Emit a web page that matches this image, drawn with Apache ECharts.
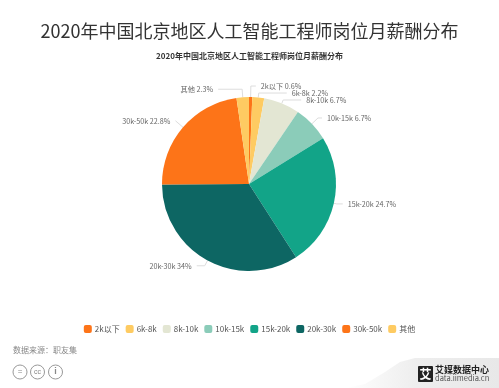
<!DOCTYPE html>
<html>
<head>
<meta charset="utf-8">
<style>
html,body{margin:0;padding:0;background:#fff;}
#main{width:499px;height:388px;}
</style>
<script src="https://cdn.jsdelivr.net/npm/echarts@6/dist/echarts.min.js"></script>
</head>
<body>
<div id="main"></div>
<script>
var categories = ['2k以下', '6k-8k', '8k-10k', '10k-15k', '15k-20k', '20k-30k', '30k-50k', '其他'];
var values = [0.6, 2.2, 6.7, 6.7, 24.7, 34, 22.8, 2.3];
var colors = ['#fd7418', '#fecb62', '#e3e6d3', '#8bccb9', '#12a488', '#0d6663', '#fd7418', '#fecb62'];
var fontName = '"Noto Sans CJK SC", "Noto Sans", sans-serif';

// guide line lengths, one pair per slice, so the labels sit where the reference has them
var lineFirst = [11, 4.5, 3.7, 8.5, 3, 6, 10, 8];
var lineSecond = [5, 28, 18, 4, 6, 8, 0, 24];

var datasss = [];
for (var i = 0; i < categories.length; i++) {
    datasss.push({
        name: categories[i],
        value: values[i],
        labelLine: { length: lineFirst[i], length2: lineSecond[i] }
    });
}

var myChart = echarts.init(document.getElementById('main'));
var option = {
    backgroundColor: '#FFFFFF',
    color: colors,
    textStyle: { fontFamily: fontName },
    title: [
        {
            text: '2020年中国北京地区人工智能工程师岗位月薪酬分布',
            left: 'center',
            top: 17,
            textStyle: { color: '#333', fontSize: 18, fontWeight: 'normal', fontFamily: fontName }
        },
        {
            text: '2020年中国北京地区人工智能工程师岗位月薪酬分布',
            left: 'center',
            top: 47,
            textStyle: { color: '#333', fontSize: 8, fontWeight: 'bold', fontFamily: fontName }
        }
    ],
    legend: {
        data: categories,
        left: 'center',
        top: 320,
        icon: 'roundRect',
        itemWidth: 8,
        itemHeight: 8,
        itemGap: 6,
        textStyle: { color: '#555', fontSize: 8, padding: [0, 0, 0, -2], fontFamily: fontName }
    },
    series: [
        {
            name: '月薪酬',
            type: 'pie',
            radius: 87,
            center: [249, 184],
            startAngle: 90,
            avoidLabelOverlap: false,
            labelLayout: { hideOverlap: false },
            itemStyle: { borderWidth: 0 },
            label: {
                formatter: '{b} {c}%',
                color: '#666',
                fontSize: 7.2,
                fontFamily: fontName
            },
            labelLine: {
                lineStyle: { color: '#ddd', width: 1 }
            },
            data: datasss
        }
    ],
    graphic: [
        { type: 'text', x: 13, y: 346, style: { text: '数据来源：职友集', fill: '#888', fontSize: 8, fontFamily: fontName } },
        { type: 'circle', shape: { cx: 20, cy: 372, r: 7 }, style: { fill: '#fff', stroke: '#999', lineWidth: 1 } },
        { type: 'text', x: 20, y: 372, style: { text: '=', fill: '#888', fontSize: 8, align: 'center', verticalAlign: 'middle' } },
        { type: 'circle', shape: { cx: 37.5, cy: 372, r: 7 }, style: { fill: '#fff', stroke: '#999', lineWidth: 1 } },
        { type: 'text', x: 37.5, y: 372, style: { text: 'cc', fill: '#888', fontSize: 7, align: 'center', verticalAlign: 'middle' } },
        { type: 'circle', shape: { cx: 55.5, cy: 372, r: 7 }, style: { fill: '#fff', stroke: '#999', lineWidth: 1 } },
        { type: 'text', x: 55.5, y: 372, style: { text: 'i', fill: '#888', fontSize: 9, fontWeight: 'bold', align: 'center', verticalAlign: 'middle' } },
        {
            type: 'polygon',
            shape: { points: [[345, 388], [365, 384], [385, 372], [400, 362], [415, 358], [499, 358], [499, 388]] },
            style: {
                fill: {
                    type: 'linear', x: 0, y: 0, x2: 1, y2: 0,
                    colorStops: [
                        { offset: 0, color: '#ffffff' },
                        { offset: 0.45, color: '#eeeeee' },
                        { offset: 1, color: '#e8e8e8' }
                    ]
                }
            }
        },
        { type: 'rect', shape: { x: 418, y: 366, width: 15, height: 16, r: 1 }, style: { fill: '#222' } },
        { type: 'text', x: 425.5, y: 374, style: { text: '艾', fill: '#fff', fontSize: 12, fontWeight: 'bold', align: 'center', verticalAlign: 'middle', fontFamily: fontName } },
        { type: 'text', x: 435, y: 370, style: { text: '艾媒数据中心', fill: '#222', fontSize: 9, fontWeight: 'bold', verticalAlign: 'middle', fontFamily: fontName } },
        { type: 'text', x: 435, y: 378, style: { text: 'data.iimedia.cn', fill: '#555', fontSize: 7.5, verticalAlign: 'middle', fontFamily: fontName } }
    ]
};
myChart.setOption(option);
window.addEventListener("resize", function () {
    myChart.resize();
});
</script>
</body>
</html>
